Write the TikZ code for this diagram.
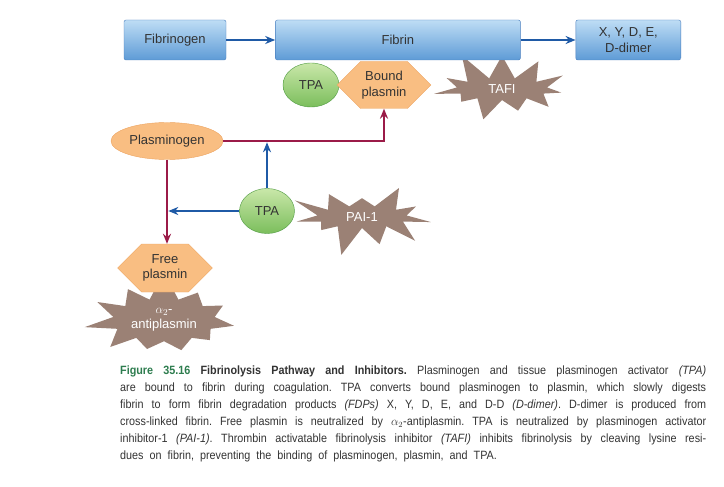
\documentclass[tikz,border=0pt]{standalone}
\usepackage{fontspec}
\setmainfont{Liberation Sans}
\newfontfamily\capfont[FakeStretch=0.9]{Liberation Sans}
\usetikzlibrary{positioning, arrows.meta, shapes.geometric, shapes.symbols}
\usepackage{xcolor}

\definecolor{boxtop}{HTML}{BEDDF5}
\definecolor{boxbot}{HTML}{5E9BD6}
\definecolor{boxline}{HTML}{4A7FBF}
\definecolor{tpatop}{HTML}{C9E7A9}
\definecolor{tpabot}{HTML}{7BBE5C}
\definecolor{tpaline}{HTML}{4E9A40}
\definecolor{orangefill}{HTML}{F9BE82}
\definecolor{orangeline}{HTML}{EDA460}
\definecolor{burstfill}{HTML}{9B8175}
\definecolor{arrowblue}{HTML}{1F5AA6}
\definecolor{arrowred}{HTML}{9B1B48}
\definecolor{figgreen}{HTML}{2E7D4F}
\definecolor{ink}{HTML}{333333}

\newcommand{\nodefont}{\fontsize{13}{15.5}\selectfont}
\newcommand{\capsize}{\capfont\fontsize{12}{17}\selectfont\frenchspacing
    \spaceskip=0.5em plus 0.25em minus 0.12em\relax}

\begin{document}
\begin{tikzpicture}[
    x=1pt, y=-1pt,
    box/.style={
        draw=boxline,
        rounded corners=2pt,
        top color=boxtop,
        bottom color=boxbot,
        minimum height=40pt,
        inner sep=2pt,
        align=center,
        font=\nodefont,
        text=ink
    },
    tpa/.style={
        ellipse,
        draw=tpaline,
        top color=tpatop,
        bottom color=tpabot,
        minimum width=56pt,
        minimum height=44pt,
        inner sep=0pt,
        font=\nodefont,
        text=ink
    },
    hexa/.style={
        signal,
        signal to=east and west,
        draw=orangeline,
        fill=orangefill,
        align=center,
        inner sep=1pt,
        font=\nodefont,
        text=ink
    },
    burst/.style={
        starburst,
        starburst points=11,
        starburst point height=30pt,
        fill=burstfill,
        align=center,
        font=\nodefont,
        text=white
    },
    bluearr/.style={
        -{Stealth[length=10pt,width=8pt]},
        line width=2.6pt,
        draw=arrowblue
    },
    redarr/.style={
        -{Stealth[length=10pt,width=8pt]},
        line width=2.6pt,
        draw=arrowred
    },
    caption/.style={
        inner sep=0pt,
        text width=586pt,
        align=justify,
        font=\capsize,
        text=ink
    }
]
\fill[white] (0,0) rectangle (724,487);

% Inhibitors (behind)
\node[burst, minimum width=151pt, minimum height=72pt, random starburst=11] (tafi) at (502,89) {TAFI};
\node[burst, minimum width=150pt, minimum height=70pt, random starburst=23] (pai) at (362,217) {PAI-1};
\node[burst, minimum width=152pt, minimum height=64pt, random starburst=17] (anti) at (164,320)
{$\alpha_2$-\\antiplasmin};

% Top row
\node[box, minimum width=102pt] (fibrinogen) at (175,40) {Fibrinogen};
\node[box, minimum width=245pt, right=49pt of fibrinogen] (fibrin) {Fibrin};
\node[box, minimum width=105pt, right=55pt of fibrin] (ddimer) {X, Y, D, E,\\D-dimer};

% Bound to fibrin
\node[tpa] (tpa1) at (311,85) {TPA};
\node[hexa, minimum width=88pt, minimum height=47pt] (bound) at (384,85) {Bound\\plasmin};

% Middle
\node[ellipse, draw=orangeline, fill=orangefill, minimum width=112pt, minimum height=37pt,
    inner sep=0pt, font=\nodefont, text=ink] (plasminogen) at (167,141) {Plasminogen};
\node[tpa, minimum width=55pt, minimum height=45pt] (tpa2) at (267,211) {TPA};
\node[hexa, minimum width=86pt, minimum height=48pt] (free) at (165,268) {Free\\plasmin};

% Connections
\draw[bluearr] (fibrinogen) -- (fibrin);
\draw[bluearr] (fibrin) -- (ddimer);

\draw[redarr] (plasminogen.east) -| (bound.south);
\draw[redarr] (plasminogen.south) -- (plasminogen.south |- free.north);

\coordinate (up) at (tpa2.north |- plasminogen.east);
\coordinate (left) at (tpa2.west -| plasminogen.south);
\draw[bluearr, shorten >=1.3pt] (tpa2.north) -- (up);
\draw[bluearr, shorten >=1.3pt] (tpa2.west) -- (left);

% Caption
\node[caption, anchor=north west] (cap) at (120,366)
{\textcolor{figgreen}{\textbf{Figure 35.16}} \textbf{Fibrinolysis Pathway and Inhibitors.} Plasminogen and tissue plasminogen activator \textit{(TPA)}\linebreak
are bound to fibrin during coagulation. TPA converts bound plasminogen to plasmin, which slowly digests\linebreak
fibrin to form fibrin degradation products \textit{(FDPs)} X, Y, D, E, and D-D \textit{(D-dimer)}. D-dimer is produced from\linebreak
cross-linked fibrin. Free plasmin is neutralized by $\alpha_2$-antiplasmin. TPA is neutralized by plasminogen activator\linebreak
inhibitor-1 \textit{(PAI-1)}. Thrombin activatable fibrinolysis inhibitor \textit{(TAFI)} inhibits fibrinolysis by cleaving lysine resi-\linebreak
dues on fibrin, preventing the binding of plasminogen, plasmin, and TPA.\par};

\end{tikzpicture}
\end{document}
